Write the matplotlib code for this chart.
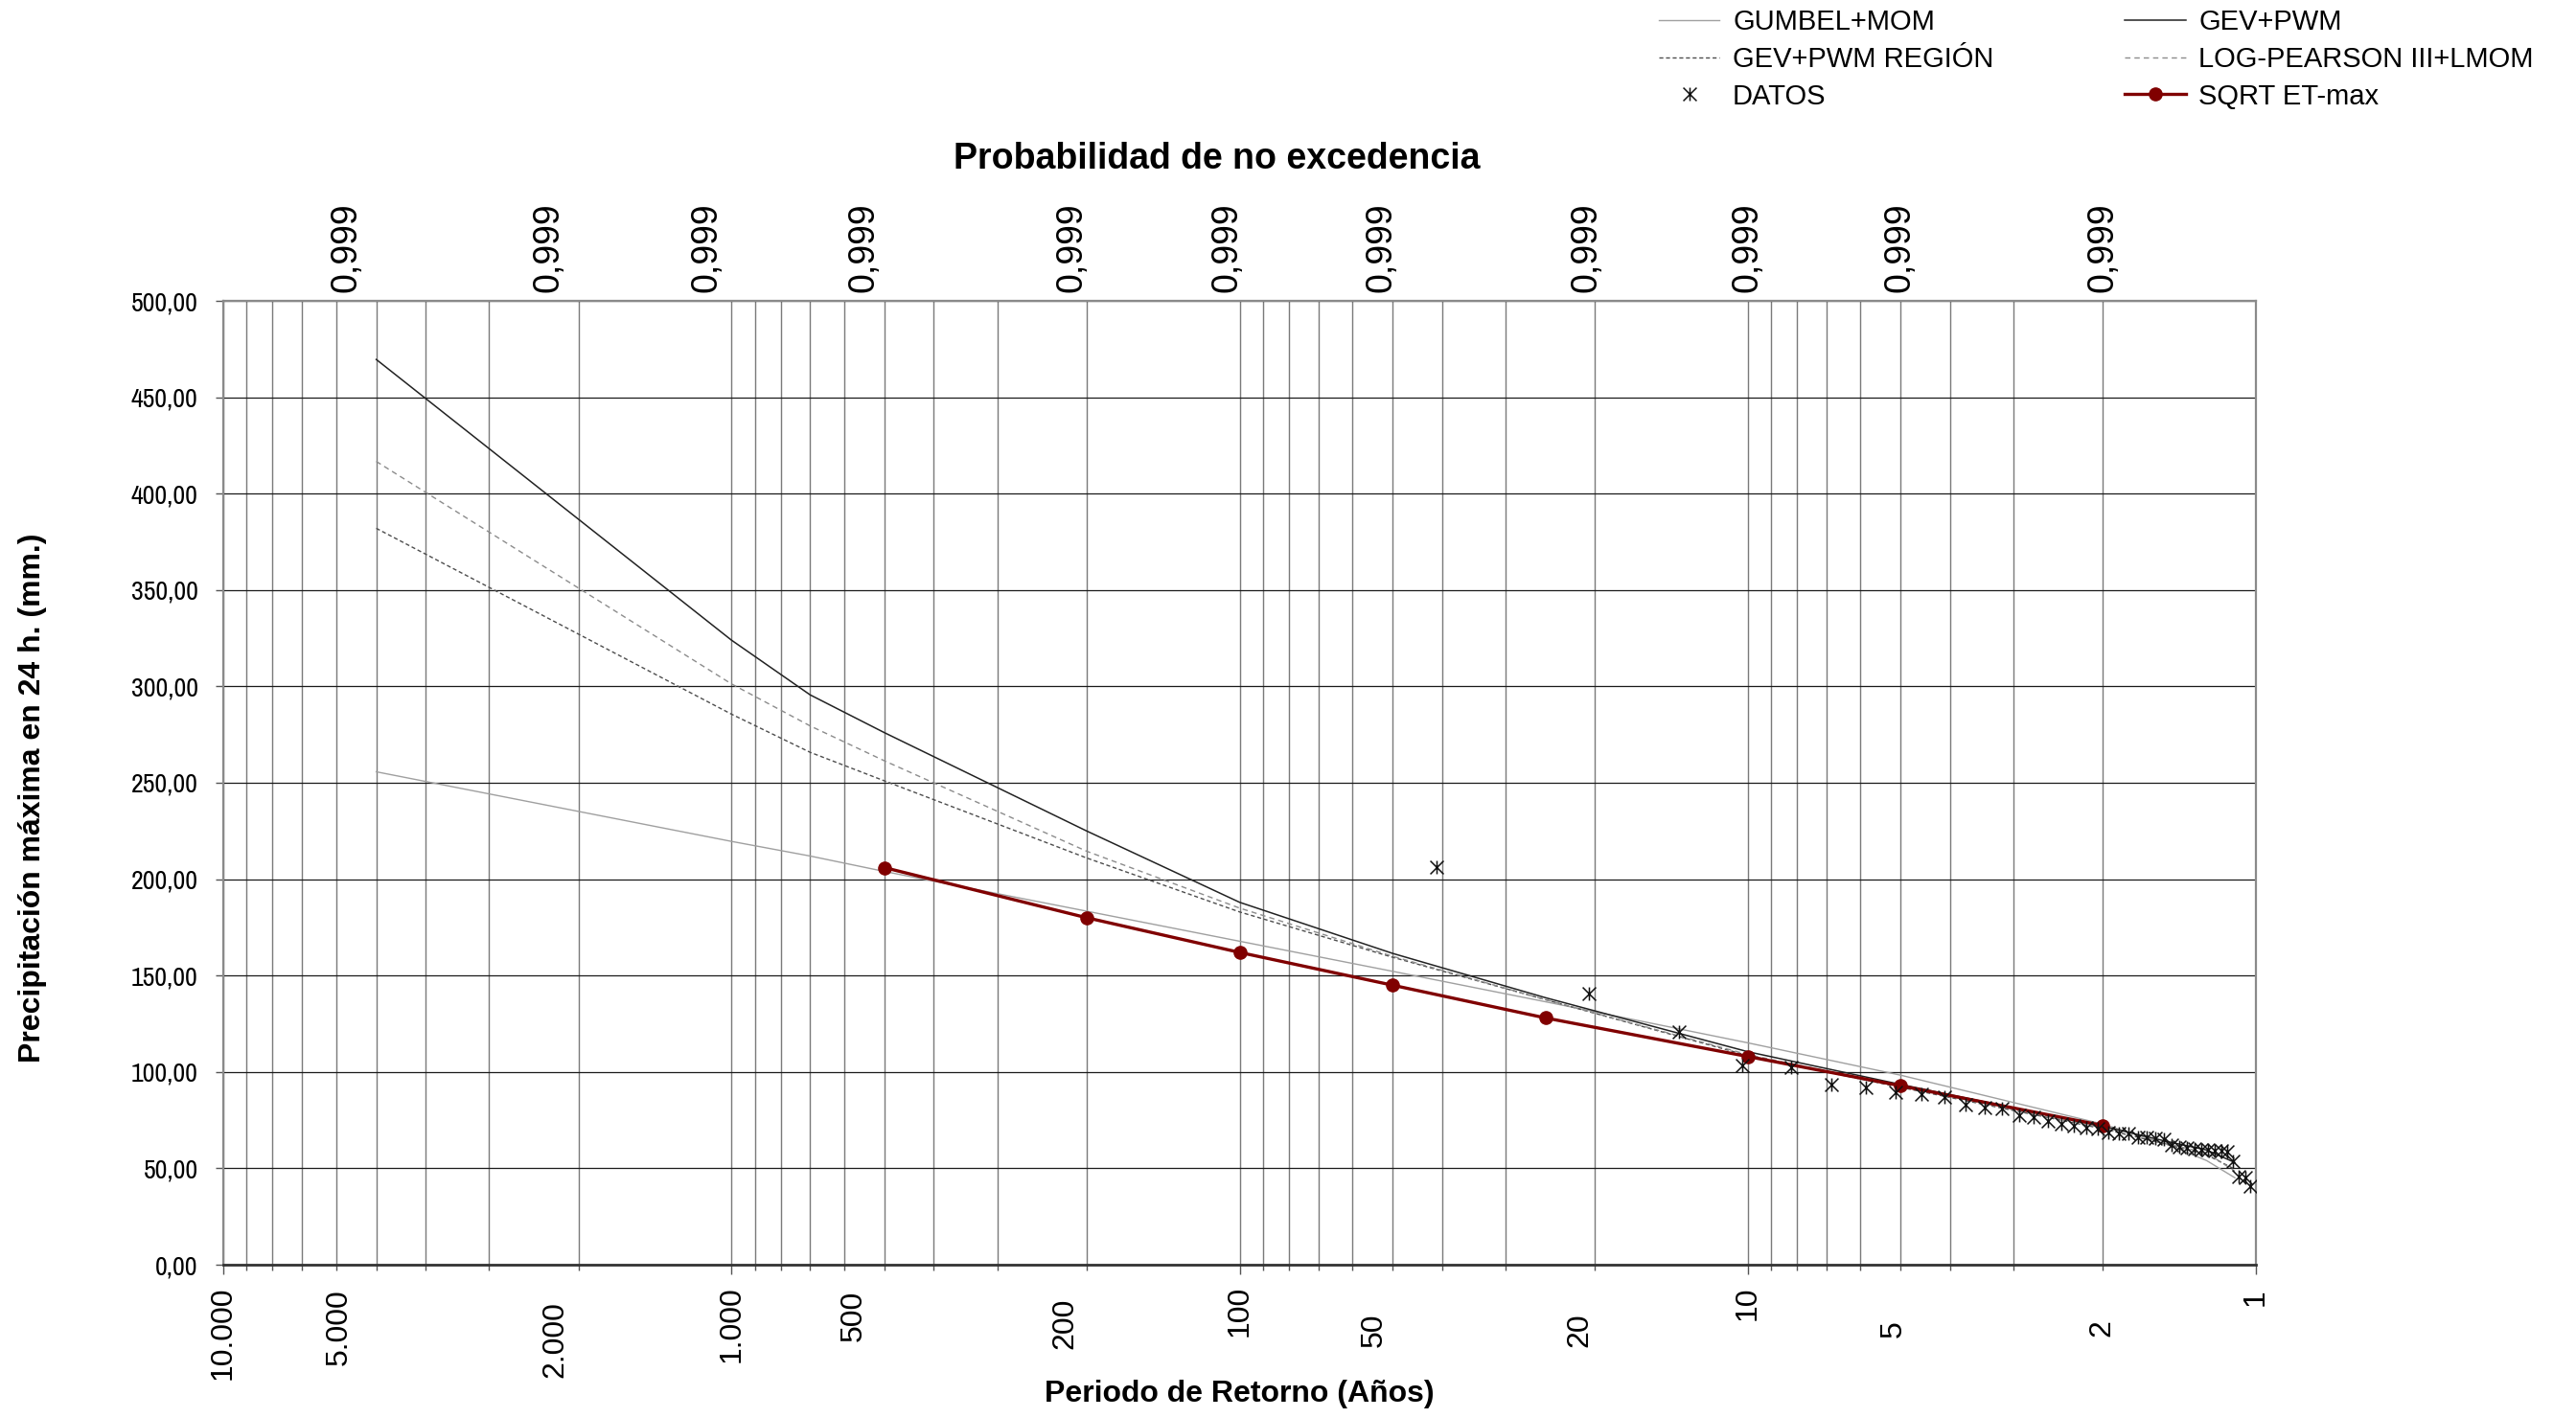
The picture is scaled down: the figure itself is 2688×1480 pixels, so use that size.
import matplotlib
matplotlib.use("Agg")
import matplotlib.pyplot as plt
from matplotlib.path import Path
from matplotlib.ticker import LogLocator, NullFormatter, FixedLocator, FuncFormatter
from matplotlib.transforms import blended_transform_factory
from matplotlib import font_manager

plt.rcParams['font.family'] = ['Liberation Sans', 'DejaVu Sans']

# ---------------- data ----------------
T_curve = [5000, 1000, 700, 500, 200, 100, 50, 25, 10, 5, 2, 1.5, 1.25, 1.1]
gumbel_mom = [255.7, 219.6, 212.0, 204.0, 183.4, 167.8, 152.2, 136.4, 115.1, 98.3, 72.9, 62.6, 54.0, 45.1]
gev_pwm = [469.6, 324.0, 295.6, 276.0, 225.0, 188.0, 161.5, 138.5, 110.5, 93.5, 71.8, 64.0, 59.5, 53.0]
gev_pwm_region = [382.0, 285.6, 265.8, 251.0, 211.0, 183.0, 159.5, 137.5, 108.5, 92.0, 70.5, 62.5, 57.0, 49.5]
lp3_lmom = [416.7, 301.3, 279.5, 261.4, 214.5, 185.0, 160.0, 137.5, 109.0, 92.5, 71.0, 62.8, 58.0, 48.5]

T_sqrt = [500, 200, 100, 50, 25, 10, 5, 2]
sqrt_etmax = [206.0, 180.0, 162.0, 145.0, 128.0, 108.0, 92.8, 72.2]

T_datos = [41.0, 20.5, 13.667, 10.25, 8.2, 6.833, 5.857, 5.125, 4.556, 4.1,
           3.727, 3.417, 3.154, 2.929, 2.733, 2.563, 2.412, 2.278, 2.158, 2.05,
           1.952, 1.864, 1.783, 1.708, 1.64, 1.577, 1.519, 1.464, 1.414, 1.367,
           1.323, 1.281, 1.242, 1.206, 1.171, 1.139, 1.108, 1.079, 1.051, 1.025]
datos = [206.5, 140.5, 120.8, 103.5, 102.2, 93.6, 91.9, 89.5, 88.6, 87.0,
         82.8, 81.5, 81.2, 77.5, 76.5, 74.6, 73.2, 72.1, 71.3, 70.4,
         68.7, 67.9, 67.9, 66.2, 66.2, 65.4, 65.0, 62.1, 61.3, 60.4,
         60.0, 59.8, 59.5, 59.3, 59.0, 58.5, 53.5, 45.5, 45.0, 41.0]

bottom_labels = ["10.000", "5.000", "2.000", "1.000", "500", "200", "100", "50", "20", "10", "5", "2", "1"]
bottom_label_T = [10000, 5930, 2222, 1000, 575, 221, 100, 54.4, 21.4, 10, 5.16, 2.01, 1]
bottom_label_top_px = [1343, 1345, 1358, 1342, 1347, 1355, 1342, 1370, 1370, 1342, 1378, 1377, 1345]

top_labels = ["0,999"] * 11
top_label_T = [5730, 2290, 1118, 548, 214, 106, 52.5, 20.8, 10, 5.02, 2.0]

y_ticks = [0, 50, 100, 150, 200, 250, 300, 350, 400, 450, 500]

# a condensed sans for the value axis, if one is installed
narrow_names = sorted({f.name for f in font_manager.fontManager.ttflist
                       if ('Narrow' in f.name or 'Condensed' in f.name) and 'Mono' not in f.name})
if narrow_names:
    pref = [n for n in narrow_names if 'Liberation' in n or 'Arial' in n] or narrow_names
    ytick_family = [pref[0], 'Liberation Sans']
    ytick_size = 20
else:
    ytick_family = ['Liberation Sans']
    ytick_size = 17.5

# ---------------- figure ----------------
W, H = 2688, 1480
fig = plt.figure(figsize=(W / 100, H / 100), dpi=100)
ax_l, ax_r, ax_t, ax_b = 233, 2354, 314, 1320
ax = fig.add_axes([ax_l / W, (H - ax_b) / H, (ax_r - ax_l) / W, (ax_b - ax_t) / H])

ax.set_xscale('log')
ax.set_xlim(10000, 1)
ax.set_ylim(0, 500)

ax.xaxis.set_major_locator(LogLocator(base=10, numticks=10))
ax.xaxis.set_minor_locator(LogLocator(base=10, subs=range(2, 10), numticks=10))
ax.xaxis.set_major_formatter(NullFormatter())
ax.xaxis.set_minor_formatter(NullFormatter())
ax.yaxis.set_major_locator(FixedLocator(y_ticks))
ax.yaxis.set_major_formatter(FuncFormatter(lambda v, p: f"{v:.2f}".replace('.', ',')))

ax.grid(True, which='both', axis='x', color='#7a7a7a', lw=1.0)
ax.grid(True, which='major', axis='y', color='#1a1a1a', lw=0.9)
ax.set_axisbelow(True)

ax.tick_params(axis='x', which='major', direction='out', length=7, width=1.0, color='#555555')
ax.tick_params(axis='x', which='minor', direction='out', length=4.5, width=1.0, color='#555555')
ax.tick_params(axis='y', which='major', direction='out', length=6, width=1.0, color='#555555',
               labelsize=ytick_size, pad=13)
for lab in ax.get_yticklabels():
    lab.set_family(ytick_family)

for s in ['top', 'right', 'left']:
    ax.spines[s].set_color('#8a8a8a')
    ax.spines[s].set_linewidth(1.6)
ax.spines['bottom'].set_color('#333333')
ax.spines['bottom'].set_linewidth(2.0)

# ---------------- series ----------------
ax.plot(T_curve, gumbel_mom, color='#a0a0a0', lw=1.0, label='GUMBEL+MOM', zorder=3)
ax.plot(T_curve, gev_pwm_region, color='#4d4d4d', lw=1.0, ls=(0, (3, 2)), label='GEV+PWM REGIÓN', zorder=3)
star = Path([(0, -1), (0, 1), (-1, -1), (1, 1), (-1, 1), (1, -1)],
            [Path.MOVETO, Path.LINETO, Path.MOVETO, Path.LINETO, Path.MOVETO, Path.LINETO])
ax.plot(T_datos, datos, ls='none', marker=star, ms=10, mew=1.1, mec='#111111', mfc='none',
        label='DATOS', zorder=6)
ax.plot(T_curve, gev_pwm, color='#222222', lw=1.1, label='GEV+PWM', zorder=3)
ax.plot(T_curve, lp3_lmom, color='#8c8c8c', lw=1.0, ls=(0, (4, 3)), label='LOG-PEARSON III+LMOM', zorder=3)
ax.plot(T_sqrt, sqrt_etmax, color='#800000', lw=2.4, marker='o', ms=9.5, mfc='#800000', mec='#800000',
        label='SQRT ET-max', zorder=5)

# ---------------- custom axis labels ----------------
tr_bottom = blended_transform_factory(ax.transData, fig.transFigure)
for lab, t, ytop in zip(bottom_labels, bottom_label_T, bottom_label_top_px):
    fig.text(t, 1 - ytop / H, lab, transform=tr_bottom, rotation=90, ha='center', va='top', fontsize=23)

tr_top = blended_transform_factory(ax.transData, ax.transAxes)
for lab, t in zip(top_labels, top_label_T):
    ax.text(t, 1.009, lab, transform=tr_top, rotation=90, ha='center', va='bottom', fontsize=27)

fig.text(1270 / W, 1 - 166 / H, 'Probabilidad de no excedencia', ha='center', va='center',
         fontsize=27, fontweight='bold')
fig.text(1293 / W, 1 - 1455 / H, 'Periodo de Retorno (Años)', ha='center', va='center',
         fontsize=23, fontweight='bold')
fig.text(34 / W, 1 - 833 / H, 'Precipitación máxima en 24 h. (mm.)', ha='center', va='center',
         rotation=90, fontsize=23, fontweight='bold')

# ---------------- legend ----------------
handles, labels = ax.get_legend_handles_labels()
leg = fig.legend(handles, labels, loc='upper left', bbox_to_anchor=(1731 / W, 1 - 9 / H),
                 ncol=2, frameon=False, fontsize=21, handlelength=2.17, handletextpad=0.47,
                 columnspacing=4.7, labelspacing=0.37, borderpad=0, borderaxespad=0)

fig.savefig('out.png', dpi=100)
